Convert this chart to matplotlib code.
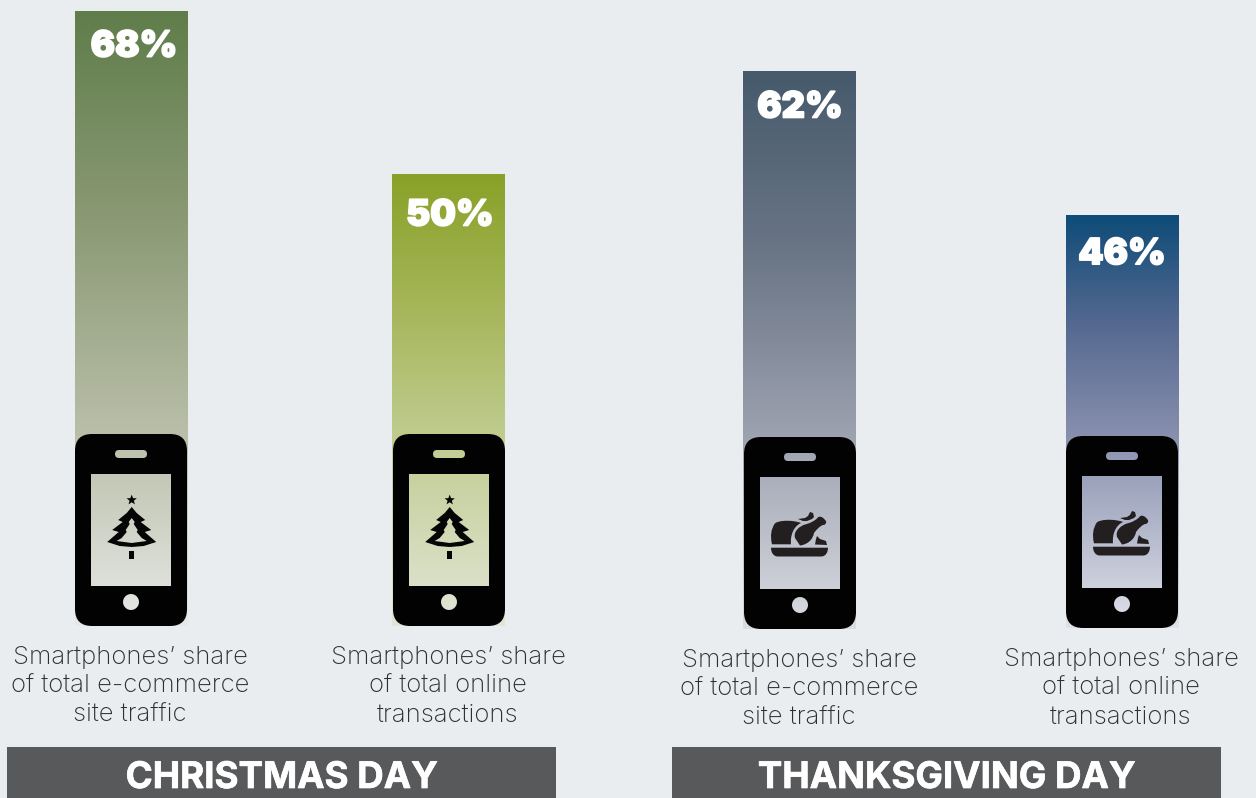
import matplotlib
matplotlib.use("Agg")
import matplotlib.pyplot as plt
import numpy as np
from matplotlib import patheffects
from matplotlib.colors import LinearSegmentedColormap
from matplotlib.patches import PathPatch, Rectangle
from matplotlib.path import Path

W, H = 1256, 798
BG = '#e9edf0'

# share of smartphones, percent
christmas_values = [68, 50]
thanksgiving_values = [62, 46]
line_traffic = ['Smartphones\u2019 share', 'of total e-commerce', 'site traffic']
line_orders = ['Smartphones\u2019 share', 'of total online', 'transactions']
group_names = ['CHRISTMAS DAY', 'THANKSGIVING DAY']

PX_PER_PCT = 9.05
M, L, C = Path.MOVETO, Path.LINETO, Path.CURVE4
ICON = '#231f20'

fig = plt.figure(figsize=(W/100, H/100), dpi=100, facecolor=BG)
ax = fig.add_axes([0, 0, 1, 1])
ax.set_xlim(0, W)
ax.set_ylim(H, 0)
ax.axis('off')
ax.set_zorder(2)
ax.patch.set_alpha(0)


def rounded(x0, y0, x1, y1, r):
    v = [(x0+r, y0), (x1-r, y0), (x1, y0), (x1, y0+r), (x1, y1-r), (x1, y1),
         (x1-r, y1), (x0+r, y1), (x0, y1), (x0, y1-r), (x0, y0+r), (x0, y0),
         (x0+r, y0), (x0+r, y0)]
    c = [M, L, Path.CURVE3, Path.CURVE3, L, Path.CURVE3,
         Path.CURVE3, L, Path.CURVE3, Path.CURVE3, L, Path.CURVE3,
         Path.CURVE3, Path.CLOSEPOLY]
    return Path(v, c)


def draw_phone(x, y):
    # body with the screen, speaker and button cut out, so the bar shows through
    body = rounded(x, y, x+112, y+192, 17)
    screen = Path([(x+16, y+40), (x+16, y+152), (x+96, y+152), (x+96, y+40), (x+16, y+40)], closed=True)
    speaker = rounded(x+40, y+16, x+72, y+24, 4)
    speaker = Path(speaker.vertices[::-1], speaker.codes)
    t = np.linspace(0, -2*np.pi, 40)
    button = Path(np.c_[x+56+8*np.cos(t), y+168+8*np.sin(t)], closed=True)
    phone = Path.make_compound_path(body, screen, speaker, button)
    ax.add_patch(PathPatch(phone, fc='#020202', ec='none', zorder=3))


def add_shape(cx, y, verts, codes=None, color=ICON):
    pts = [(cx+a, y+b) for a, b in verts]
    path = Path(pts, codes) if codes else Path(pts, closed=True)
    ax.add_patch(PathPatch(path, fc=color, ec='none', zorder=4))


def draw_tree(cx, y):
    star = [(5.4*np.cos(a)*(1 if i % 2 == 0 else .42), 5.4*np.sin(a)*(1 if i % 2 == 0 else .42))
            for i, a in enumerate(np.linspace(-np.pi/2, 1.5*np.pi, 11)[:-1])]
    add_shape(cx, y, star + star[:1], color='#050505')
    right = [(0, 7), (5, 13), (13.5, 20), (9, 22), (19.5, 30), (13, 32), (24.5, 42)]
    under = [(12, 46), (0, 47)]
    outer = right + under + [(-a, b) for a, b in under[::-1][1:]] + [(-a, b) for a, b in right[::-1][:-1]]
    inner_right = [(0, 18), (3, 22), (2, 24), (6, 30), (5, 32), (10, 38), (15, 41)]
    inner = inner_right + [(0, 43)] + [(-a, b) for a, b in inner_right[::-1][:-1]]
    p = Path.make_compound_path(Path([(cx+a, y+b) for a, b in outer]),
                                Path([(cx+a, y+b) for a, b in inner[::-1]]))
    ax.add_patch(PathPatch(p, fc='#050505', ec='none', zorder=4))
    add_shape(cx, y, [(-2.6, 51), (2.6, 51), (2.6, 59), (-2.6, 59), (-2.6, 51)], color='#050505')


def draw_turkey(cx, y):
    # roast body
    add_shape(cx, y, [(-28, 14.3), (-30, 6), (-29, -1), (-25, -6.7), (-21, -9.5), (-13, -9.5), (-8, -9),
                      (-4, -8.5), (-1, -8), (1, -7), (-6, -4), (-10, 5), (-9, 14.3), (-28, 14.3)],
              [M, C, C, C, C, C, C, C, C, C, C, C, C, L])
    # drumstick
    add_shape(cx, y, [(-5, 8), (-7, 1), (0, -4), (5, -5.5), (11, -7), (14, -9), (17, -11.5),
                      (19, -15), (23, -13), (25, -10), (27, -9), (26.5, -5), (23, -5), (20, -4),
                      (17, -1), (14, 3), (13, 9), (8, 14.5), (0, 15.5), (-5, 8)],
              [M] + [C]*18 + [L])
    # far leg behind
    add_shape(cx, y, [(15, 14.5), (16, 9), (17, 6), (20, 9), (23, 10), (26, 11), (27, 15), (15, 14.5)])
    # wing tip
    add_shape(cx, y, [(-2, -11), (5, -12), (8, -14), (10, -18), (13, -17), (14, -13), (12, -11),
                      (7, -9), (3, -9), (-2, -11)])
    # platter
    add_shape(cx, y, [(-29, 17.7), (28, 17.7), (28, 22), (26, 26.5), (21, 26.5), (-22, 26.5),
                      (-27, 26.5), (-29, 22), (-29, 17.7)],
              [M, L, C, C, C, L, C, C, C])


def draw_bar(value, x0, base, phone_foot, colors):
    # value axis: percent, zero below the phone
    bar_ax = fig.add_axes([0, 0, 1, 1], zorder=0)
    bar_ax.patch.set_alpha(0)
    bar_ax.axis('off')
    top = base - value*PX_PER_PCT
    knee = (432 - top)/(base - top)
    cmap = LinearSegmentedColormap.from_list('bar', [(0, colors[0]), (knee/2, colors[1]),
                                                     (knee, colors[2]), (1, colors[3])])
    grad = np.linspace(0, 1, 256).reshape(-1, 1)
    bar_ax.imshow(grad, cmap=cmap, extent=(x0, x0+113, (base-phone_foot)/PX_PER_PCT, value),
                  aspect='auto', origin='upper')
    bar_ax.set_xlim(0, W)
    bar_ax.set_ylim((base-H)/PX_PER_PCT, base/PX_PER_PCT)
    return top


label_font = dict(family=['Inter', 'Open Sans', 'DejaVu Sans'], weight='light')
heavy_font = dict(family=['Inter', 'Lato', 'DejaVu Sans'], weight='black')
thicken = [patheffects.withStroke(linewidth=1.2, foreground='white')]

values = christmas_values + thanksgiving_values
lines = [line_traffic, line_orders, line_traffic, line_orders]
bar_x = [75, 392, 743, 1066]
bar_base = [626.5, 626.5, 632.6, 631.5]
phone_x = [75, 393, 744, 1066]
phone_y = [434, 434, 437, 436]
centers = [131, 449, 800, 1122]
pct_x = [134, 450, 800, 1122]
pct_drop = [45.5, 51.5, 46, 49]
bar_colors = [['#5f7d4a', '#8b9a75', '#b9bea8', '#e6e9e6'],
              ['#89a128', '#a5b558', '#bfcb8d', '#e2e6d8'],
              ['#465a6c', '#6a7585', '#9ba0ae', '#dadce2'],
              ['#0e4c78', '#546890', '#858dac', '#e0e2ea']]

for i, val in enumerate(values):
    py = phone_y[i]
    top = draw_bar(val, bar_x[i], bar_base[i], py+192, bar_colors[i])
    ax.text(pct_x[i], top+pct_drop[i], '%d%%' % val, color='white', fontsize=26, ha='center', va='baseline',
            path_effects=thicken, **heavy_font)
    draw_phone(phone_x[i], py)
    if i < 2:
        draw_tree(centers[i]+0.7, py+66)
    else:
        draw_turkey(centers[i], py+93)
    for line, dy in zip(lines[i], [230, 259, 287.5]):
        ax.text(centers[i]-1, py+dy, line, color='#2f2f2f', fontsize=18.5, ha='center', va='baseline', **label_font)

# group banners along the bottom edge
for x0, name in zip([7, 672], group_names):
    ax.add_patch(Rectangle((x0, 747), 549, 51, fc='#58595b', ec='none', zorder=2))
    ax.text(x0+274.5, 788, name, color='white', fontsize=26.4, ha='center', va='baseline',
            family=['Inter', 'Lato', 'DejaVu Sans'], weight='bold', zorder=3,
            path_effects=[patheffects.withStroke(linewidth=0.5, foreground='white')])

fig.savefig('out.png', dpi=100, facecolor=BG)
